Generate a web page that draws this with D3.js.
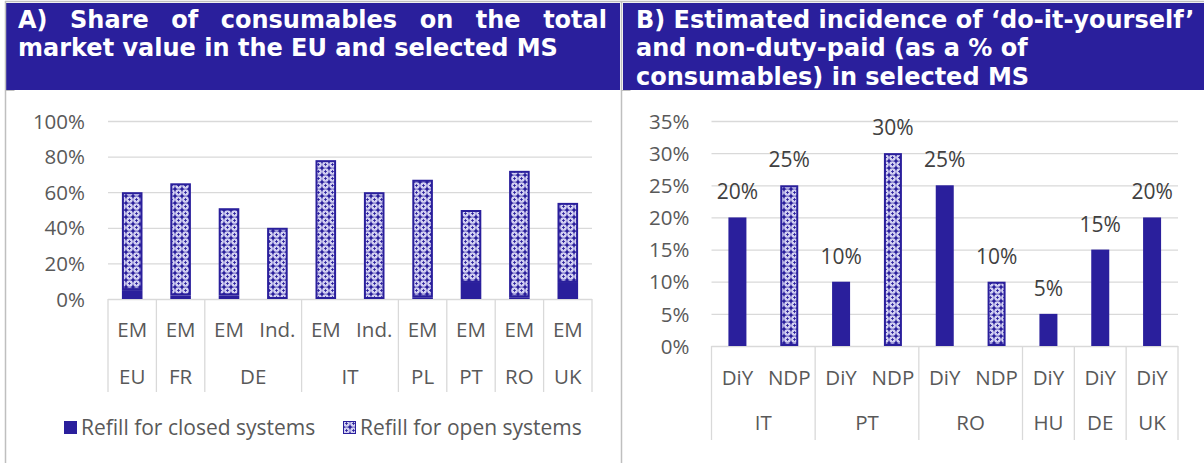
<!DOCTYPE html>
<html lang="en">
<head>
    <meta charset="UTF-8">
    <title>Consumables share and DiY / NDP incidence</title>
    <script src="https://cdnjs.cloudflare.com/ajax/libs/d3/7.8.5/d3.min.js"></script>
    <style>
        * { margin: 0; padding: 0; box-sizing: border-box; }
        body { background: white; width: 1204px; height: 463px; overflow: hidden; }
        svg { display: block; }
        .tick text { font-family: 'Open Sans', sans-serif; font-size: 20.5px; fill: #595959; }
        .cat { font-family: 'Open Sans', sans-serif; font-size: 20.5px; fill: #595959; }
        .leg { font-family: 'Open Sans', sans-serif; font-size: 21px; fill: #595959; }
        .lbl { font-family: 'Open Sans', sans-serif; font-size: 21px; fill: #404040; }
        .title { font-family: 'DejaVu Sans', Verdana, sans-serif; font-weight: bold; font-size: 24px; fill: white; }
    </style>
</head>
<body>
    <div id="chart"></div>
    <script>
        // Panel A: share of consumables (stacked)
        const leftGroup = ["EU", "FR", "DE", "DE", "IT", "IT", "PL", "PT", "RO", "UK"];
        const leftSub = ["EM", "EM", "EM", "Ind.", "EM", "Ind.", "EM", "EM", "EM", "EM"];
        const closedShare = [5, 2, 2, 0, 0, 0, 1, 9, 1, 9];
        const openShare = [55, 63, 49, 40, 78, 60, 66, 41, 71, 45];
        const leftTicks = [0, 20, 40, 60, 80, 100];
        const legendNames = ["Refill for closed systems", "Refill for open systems"];

        // Panel B: DiY and non-duty-paid incidence
        const rightGroup = ["IT", "IT", "PT", "PT", "RO", "RO", "HU", "DE", "UK"];
        const rightSub = ["DiY", "NDP", "DiY", "NDP", "DiY", "NDP", "DiY", "DiY", "DiY"];
        const rightValues = [20, 25, 10, 30, 25, 10, 5, 15, 20];
        const rightTicks = [0, 5, 10, 15, 20, 25, 30, 35];

        const titleA = ["A) Share of consumables on the total", "market value in the EU and selected MS"];
        const titleB = ["B) Estimated incidence of \u2018do-it-yourself\u2019", "and non-duty-paid (as a % of", "consumables) in selected MS"];

        const blue = "#2a1f9c";
        const W = 1204, H = 463;

        const svg = d3.select('#chart').append('svg')
            .attr('width', W).attr('height', H);

        const defs = svg.append('defs');
        const pat = defs.append('pattern')
            .attr('id', 'lattice')
            .attr('width', 7).attr('height', 7)
            .attr('patternUnits', 'userSpaceOnUse');
        pat.append('rect').attr('width', 7).attr('height', 7).attr('fill', blue);
        pat.append('circle').attr('cx', 3.5).attr('cy', 3.5).attr('r', 3.35).attr('fill', '#d3d1f2');
        pat.append('path').attr('d', 'M3.5 2.1V4.9M2.1 3.5H4.9')
            .attr('stroke', blue).attr('stroke-width', 0.9);

        // frame and header boxes
        svg.append('line').attr('x1', 5).attr('x2', W).attr('y1', 1.5).attr('y2', 1.5)
            .attr('stroke', '#bfbfbf').attr('stroke-width', 1.5);
        svg.append('rect').attr('x', 6).attr('y', 3).attr('width', 614).attr('height', 87).attr('fill', blue);
        svg.append('rect').attr('x', 623).attr('y', 3).attr('width', W - 623).attr('height', 87).attr('fill', blue);
        [5.5, 621.5].forEach(x => {
            svg.append('line').attr('x1', x).attr('x2', x).attr('y1', 1).attr('y2', H)
                .attr('stroke', '#bfbfbf').attr('stroke-width', 1.5);
            svg.append('line').attr('x1', x).attr('x2', x + 9).attr('y1', 90.5).attr('y2', 90.5)
                .attr('stroke', '#bfbfbf').attr('stroke-width', 1);
        });

        // titles
        const lineA1 = svg.append('g');
        const wordsA = titleA[0].split(' ');
        const wordNodes = wordsA.map(w => lineA1.append('text').attr('class', 'title').attr('y', 27.5).text(w));
        const widths = wordNodes.map(n => n.node().getComputedTextLength());
        const gap = (607 - 18 - d3.sum(widths)) / (wordsA.length - 1);
        let cx = 18;
        wordNodes.forEach((n, i) => { n.attr('x', cx); cx += widths[i] + gap; });
        svg.append('text').attr('class', 'title').attr('x', 18).attr('y', 56).text(titleA[1]);
        titleB.forEach((t, i) => {
            svg.append('text').attr('class', 'title').attr('x', 636).attr('y', 27.5 + i * 28.5).text(t);
        });

        function groupRuns(groups) {
            const runs = [];
            groups.forEach((g, i) => {
                if (runs.length && runs[runs.length - 1].name === g) runs[runs.length - 1].end = i;
                else runs.push({ name: g, start: i, end: i });
            });
            return runs;
        }

        function catAxis(g, x, groups, subs, y0, ySub, yGroup, yBottom) {
            const runs = groupRuns(groups);
            const edges = [x.range()[0]].concat(runs.map(r => x(r.end) + x.bandwidth()));
            g.selectAll('.sep').data(edges).enter().append('line')
                .attr('x1', d => d).attr('x2', d => d)
                .attr('y1', y0).attr('y2', yBottom)
                .attr('stroke', '#d9d9d9').attr('stroke-width', 1.3);
            g.selectAll('.sub').data(subs).enter().append('text')
                .attr('class', 'cat')
                .attr('x', (d, i) => x(i) + x.bandwidth() / 2)
                .attr('y', ySub).attr('dy', '0.35em')
                .attr('text-anchor', 'middle').text(d => d);
            g.selectAll('.grp').data(runs).enter().append('text')
                .attr('class', 'cat')
                .attr('x', r => (x(r.start) + x(r.end) + x.bandwidth()) / 2)
                .attr('y', yGroup).attr('dy', '0.35em')
                .attr('text-anchor', 'middle').text(r => r.name);
        }

        function valueAxis(g, y, ticks, x0, x1, pad) {
            const ax = g.append('g')
                .attr('transform', `translate(${x0},0)`)
                .call(d3.axisLeft(y).tickValues(ticks).tickFormat(d => d + '%')
                    .tickSizeInner(-(x1 - x0)).tickSizeOuter(0).tickPadding(pad));
            ax.select('.domain').remove();
            ax.selectAll('.tick line').attr('stroke', '#d9d9d9').attr('stroke-width', 1.3);
            ax.selectAll('.tick text').attr('dy', '0.35em');
        }

        // ---- Panel A ----
        const gA = svg.append('g');
        const xA = d3.scaleBand().domain(d3.range(leftSub.length)).range([108, 592]).padding(0);
        const yA = d3.scaleLinear().domain([0, 100]).range([299, 121]);
        valueAxis(gA, yA, leftTicks, 108, 592, 23);
        const bwA = 20.6;
        gA.selectAll('.closed').data(closedShare).enter().append('rect')
            .attr('x', (d, i) => xA(i) + (xA.bandwidth() - bwA) / 2)
            .attr('width', bwA)
            .attr('y', d => yA(d))
            .attr('height', d => yA(0) - yA(d))
            .attr('fill', blue);
        gA.selectAll('.open').data(openShare).enter().append('rect')
            .attr('x', (d, i) => xA(i) + (xA.bandwidth() - bwA) / 2 + 1)
            .attr('width', bwA - 2)
            .attr('y', (d, i) => yA(d + closedShare[i]) + 1)
            .attr('height', (d, i) => Math.max(0, yA(closedShare[i]) - yA(d + closedShare[i]) - 2))
            .attr('fill', 'url(#lattice)')
            .attr('stroke', blue).attr('stroke-width', 2);
        catAxis(gA, xA, leftGroup, leftSub, 299, 330, 377, 392);

        // legend
        const legend = svg.append('g');
        legend.append('rect').attr('x', 64).attr('y', 421).attr('width', 13).attr('height', 13).attr('fill', blue);
        legend.append('text').attr('class', 'leg').attr('x', 81).attr('y', 428).attr('dy', '0.35em').text(legendNames[0]);
        legend.append('rect').attr('x', 343.5).attr('y', 421.5).attr('width', 12).attr('height', 12)
            .attr('fill', 'url(#lattice)').attr('stroke', blue).attr('stroke-width', 1);
        legend.append('text').attr('class', 'leg').attr('x', 360).attr('y', 428).attr('dy', '0.35em').text(legendNames[1]);

        // ---- Panel B ----
        const gB = svg.append('g');
        const xB = d3.scaleBand().domain(d3.range(rightSub.length)).range([711.5, 1178]).padding(0);
        const yB = d3.scaleLinear().domain([0, 35]).range([346, 121]);
        valueAxis(gB, yB, rightTicks, 711.5, 1178, 22);
        const bwB = 18;
        const isNdp = i => rightSub[i] === 'NDP';
        gB.selectAll('.bar').data(rightValues).enter().append('rect')
            .attr('x', (d, i) => xB(i) + (xB.bandwidth() - bwB) / 2 + (isNdp(i) ? 1 : 0))
            .attr('width', (d, i) => isNdp(i) ? bwB - 2 : bwB)
            .attr('y', (d, i) => yB(d) + (isNdp(i) ? 1 : 0))
            .attr('height', (d, i) => yB(0) - yB(d) - (isNdp(i) ? 2 : 0))
            .attr('fill', (d, i) => isNdp(i) ? 'url(#lattice)' : blue)
            .attr('stroke', (d, i) => isNdp(i) ? blue : 'none')
            .attr('stroke-width', 2);
        gB.selectAll('.lbl').data(rightValues).enter().append('text')
            .attr('class', 'lbl')
            .attr('x', (d, i) => xB(i) + xB.bandwidth() / 2)
            .attr('y', d => yB(d) - 18)
            .attr('text-anchor', 'middle')
            .text(d => d + '%');
        catAxis(gB, xB, rightGroup, rightSub, 346, 378, 423, 440);
    </script>
</body>
</html>
